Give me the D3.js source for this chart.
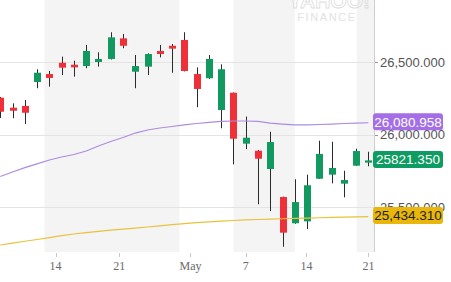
<html>
<head>
<script src="https://d3js.org/d3.v7.min.js"></script>
<style>
  body { margin: 0; background: #fff; }
  svg { display: block; }
</style>
</head>
<body>
<svg width=451 height=282 id="chart"></svg>
<script>
// one entry per trading session, oldest first
opens  = [26254, 26185, 26197, 26362, 26417, 26495, 26481, 26472, 26500, 26521,
          26663, 26433, 26468, 26576, 26612, 26652, 26417, 26388, 26169, 26288,
          25937, 25888, 25762, 25569, 25388, 25401, 25695, 25723, 25661, 25785, 25806];
highs  = [26259, 26215, 26238, 26450, 26438, 26537, 26509, 26617, 26567, 26705,
          26693, 26548, 26560, 26617, 26624, 26705, 26463, 26548, 26484, 26290,
          26124, 25893, 26019, 25572, 25691, 25723, 25957, 25950, 25750, 25902, 25881];
lows   = [26114, 26112, 26072, 26319, 26330, 26410, 26399, 26457, 26468, 26517,
          26595, 26319, 26410, 26532, 26426, 26435, 26188, 26383, 26043, 25794,
          25899, 25519, 25472, 25226, 25384, 25348, 25693, 25663, 25567, 25783, 25781];
closes = [26157, 26164, 26150, 26426, 26390, 26461, 26463, 26576, 26521, 26670,
          26612, 26472, 26555, 26555, 26592, 26438, 26314, 26521, 26450, 25971,
          25978, 25833, 25948, 25323, 25534, 25650, 25866, 25769, 25686, 25886, 25821.35];

// moving averages (purple = 50 day, yellow = 200 day)
ma50  = [25710, 25741, 25772, 25797, 25824, 25845, 25862, 25886, 25921, 25952,
         25979, 26010, 26031, 26045, 26055, 26066, 26076, 26083, 26090, 26093,
         26093, 26090, 26079, 26072, 26066, 26066, 26069, 26072, 26076, 26079, 26080.958];
ma200 = [25238, 25251, 25264, 25276, 25289, 25302, 25314, 25323, 25332, 25341,
         25348, 25355, 25362, 25370, 25378, 25386, 25392, 25398, 25403, 25407,
         25411, 25414, 25417, 25419, 25421, 25424, 25426, 25428, 25430, 25432, 25434.31];

priceTicks = [25500, 26000, 26500];
dateLabels = ["14", "21", "May", "7", "14", "21"];
dateTickAt = [4.5, 9.7, 15.5, 20, 24.95, 30];   // session index of each date tick
shadeFrom  = [3.6, 19, 29.05];
shadeTo    = [14.6, 24, 31];

plotW = 374;
plotH = 252;

x = d3.scaleLinear().domain([0, 30]).range([0.3, 368.4]);
y = d3.scaleLinear().domain([25189.7, 26927.6]).range([plotH, 0]);

svg = d3.select("#chart");

svg.append("defs").append("clipPath")
    .attr("id", "plotclip")
    .append("rect")
        .attr("width", plotW)
        .attr("height", plotH);

plot = svg.append("g").attr("clip-path", "url(#plotclip)");

// shaded week bands
plot.selectAll(".band")
    .data(shadeFrom)
    .enter()
    .append("rect")
    .attr("class", "band")
    .attr("x", d => x(d))
    .attr("y", 0)
    .attr("width", (d, i) => Math.min(x(shadeTo[i]), plotW) - x(d))
    .attr("height", plotH)
    .attr("fill", "#f4f4f4");

// watermark
wm = svg.append("g").attr("fill", "none").attr("stroke", "#dcdcdc");
wm.append("text")
    .attr("x", 329).attr("y", 7.5)
    .attr("text-anchor", "middle")
    .style("font", "bold 21px 'Liberation Sans', Arial, sans-serif")
    .attr("stroke-width", 0.8)
    .text("YAHOO!");
wm.append("text")
    .attr("x", 327).attr("y", 20.5)
    .attr("text-anchor", "middle")
    .attr("fill", "#e2e2e2").attr("stroke", "none")
    .style("font", "11px 'Liberation Sans', Arial, sans-serif")
    .style("letter-spacing", "1.6px")
    .text("FINANCE");

// horizontal gridlines
plot.selectAll(".grid")
    .data(priceTicks)
    .enter()
    .append("line")
    .attr("class", "grid")
    .attr("x1", 0).attr("x2", plotW)
    .attr("y1", d => Math.round(y(d)) + 0.5)
    .attr("y2", d => Math.round(y(d)) + 0.5)
    .attr("stroke", "#e4e4e4");

// candles
idx = d3.range(opens.length);
candles = plot.selectAll(".candle")
    .data(idx)
    .enter()
    .append("g")
    .attr("class", "candle");

candles.append("line")
    .attr("x1", i => Math.round(x(i)) + 0.5)
    .attr("x2", i => Math.round(x(i)) + 0.5)
    .attr("y1", i => y(highs[i]))
    .attr("y2", i => y(lows[i]))
    .attr("stroke", "#2b2b2b")
    .attr("stroke-width", 1);

candles.append("rect")
    .attr("x", i => Math.round(x(i)) - 3)
    .attr("width", 7)
    .attr("y", i => y(Math.max(opens[i], closes[i])))
    .attr("height", i => Math.max(1.5, Math.abs(y(opens[i]) - y(closes[i]))))
    .attr("fill", i => closes[i] >= opens[i] ? "#11995f" : "#ef3038");

// moving average lines
maLine = d3.line().x((d, i) => x(i)).y(d => y(d));

plot.append("path")
    .datum(ma50)
    .attr("d", maLine)
    .attr("fill", "none")
    .attr("stroke", "#ad8ce0")
    .attr("stroke-width", 1.2);

plot.append("path")
    .datum(ma200)
    .attr("d", maLine)
    .attr("fill", "none")
    .attr("stroke", "#e9c23c")
    .attr("stroke-width", 1.2);

// right price axis
svg.append("line")
    .attr("x1", plotW + 0.5).attr("x2", plotW + 0.5)
    .attr("y1", 0).attr("y2", plotH)
    .attr("stroke", "#cfcfcf");

priceAxis = svg.append("g");
priceAxis.selectAll("line")
    .data(priceTicks)
    .enter()
    .append("line")
    .attr("x1", plotW + 1).attr("x2", plotW + 4)
    .attr("y1", d => Math.round(y(d)) + 0.5)
    .attr("y2", d => Math.round(y(d)) + 0.5)
    .attr("stroke", "#999");
priceAxis.selectAll("text")
    .data(priceTicks)
    .enter()
    .append("text")
    .attr("x", plotW + 6)
    .attr("y", d => y(d))
    .attr("dy", "0.35em")
    .attr("fill", "#555")
    .style("font", "13px 'Liberation Sans', Arial, sans-serif")
    .text(d => d3.format(",.3f")(d));

// bottom date axis
dateAxis = svg.append("g");
dateAxis.selectAll("line")
    .data(dateTickAt)
    .enter()
    .append("line")
    .attr("x1", d => Math.round(x(d)) + 0.5)
    .attr("x2", d => Math.round(x(d)) + 0.5)
    .attr("y1", plotH + 1).attr("y2", plotH + 5)
    .attr("stroke", "#c8c8c8");
dateAxis.selectAll("text")
    .data(dateTickAt)
    .enter()
    .append("text")
    .attr("x", d => x(d))
    .attr("y", 270)
    .attr("text-anchor", "middle")
    .attr("fill", "#6a6a6a")
    .style("font", "12px 'Liberation Serif', 'Times New Roman', serif")
    .text((d, i) => dateLabels[i]);

// last value badges
last = opens.length - 1;
badges = [
    { v: ma50[last],   txt: d3.format(",.3f")(ma50[last]),  bg: "#a46fe6", fg: "#fff" },
    { v: closes[last], txt: d3.format(".3f")(closes[last]), bg: "#0f9c62", fg: "#fff" },
    { v: ma200[last],  txt: d3.format(",.3f")(ma200[last]), bg: "#e8b60c", fg: "#222" }
];
badge = svg.selectAll(".badge")
    .data(badges)
    .enter()
    .append("g")
    .attr("class", "badge")
    .attr("transform", d => "translate(" + (plotW - 1) + "," + (y(d.v) - 1) + ")");
badge.append("rect")
    .attr("x", 0).attr("y", -8.5)
    .attr("width", 70).attr("height", 17)
    .attr("rx", 3)
    .attr("fill", d => d.bg);
badge.append("text")
    .attr("x", 35).attr("y", 0)
    .attr("dy", "0.36em")
    .attr("text-anchor", "middle")
    .attr("fill", d => d.fg)
    .style("font", "13.5px 'Liberation Sans', Arial, sans-serif")
    .text(d => d.txt);
</script>
</body>
</html>
